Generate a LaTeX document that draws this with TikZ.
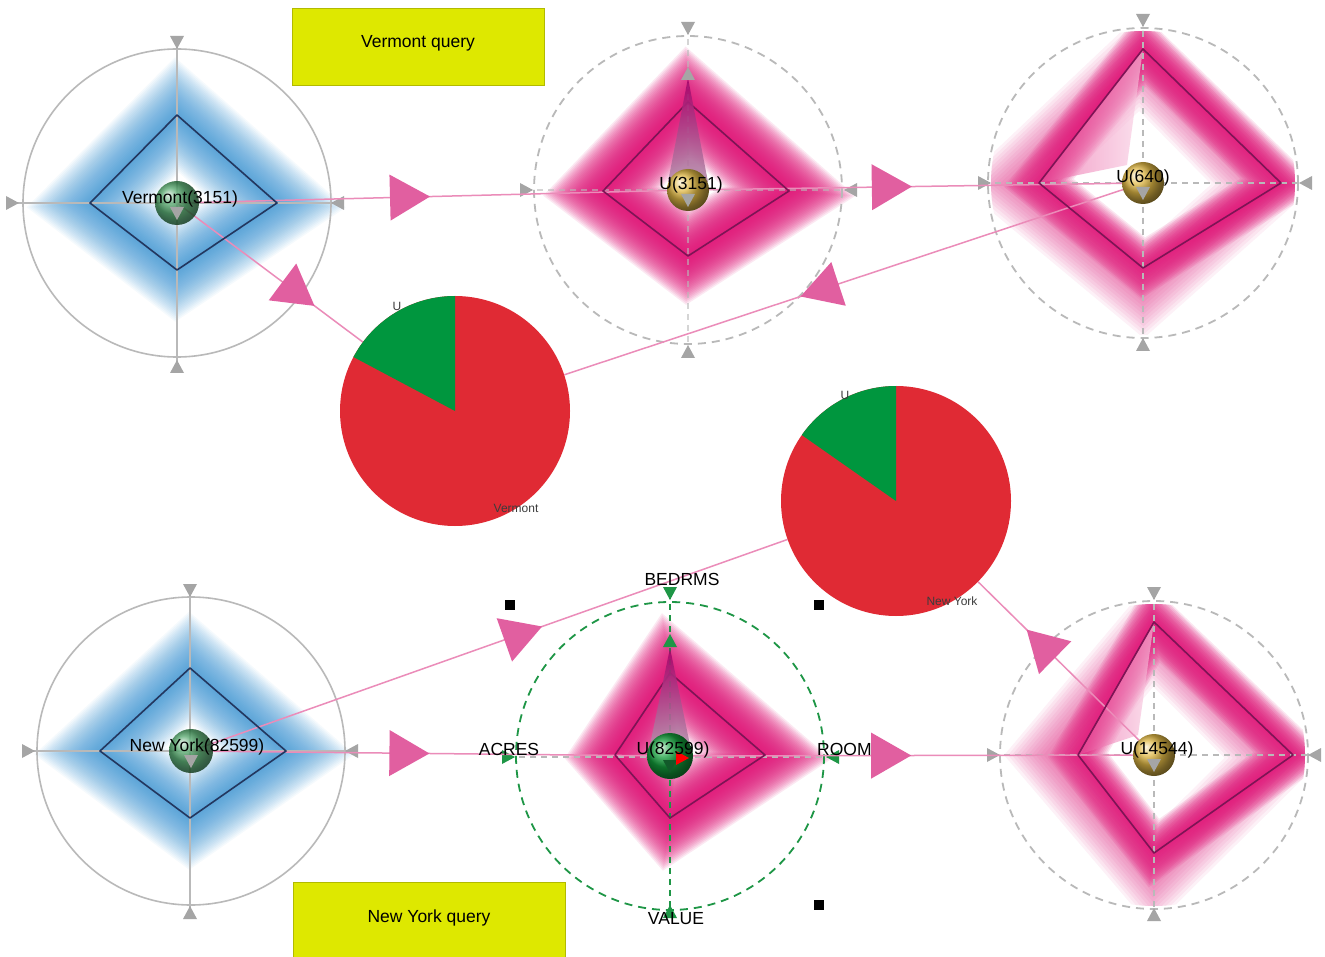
\documentclass[tikz,border=0pt]{standalone}
\usepackage{fontspec}
\setmainfont{Liberation Sans}
\usetikzlibrary{shapes.geometric}
\definecolor{pk}{RGB}{225,20,120}
\definecolor{bl}{RGB}{40,140,210}
\definecolor{lnpink}{RGB}{235,140,185}
\definecolor{arpink}{RGB}{225,95,160}
\definecolor{dmag}{RGB}{125,20,85}
\definecolor{dnavy}{RGB}{35,55,95}
\definecolor{axgray}{RGB}{185,185,185}
\definecolor{trgray}{RGB}{165,165,165}
\definecolor{piered}{RGB}{224,42,52}
\definecolor{piegreen}{RGB}{0,150,62}
\definecolor{qyellow}{RGB}{222,232,0}
\definecolor{dgreen}{RGB}{30,150,70}
\definecolor{spktop}{RGB}{165,0,105}
\definecolor{spkbot}{RGB}{180,140,170}
\definecolor{gold}{RGB}{225,185,70}
\definecolor{ballgreen}{RGB}{20,160,60}
\definecolor{lblgray}{RGB}{60,60,60}
\newcommand\myglow[7]{\foreach \w in {#3}{\draw[draw=#1,draw opacity=#2,line width=\w pt,line join=miter] #4 -- #5 -- #6 -- #7 -- cycle;}}
\newcommand\tdown[3]{\pic[fill=#3, rotate=-90] at (#1,#2) {gtri};}
\newcommand\tup[3]{\pic[fill=#3, rotate=90] at (#1,#2) {gtri};}
\newcommand\tright[3]{\pic[fill=#3] at (#1,#2) {gtri};}
\newcommand\tleft[3]{\pic[fill=#3, rotate=180] at (#1,#2) {gtri};}
\tikzset{
  gtri/.pic={\fill[pic actions] (-6,-7) -- (-6,7) -- (7,0) -- cycle;},
  bigtri/.pic={\fill[arpink] (-20,-23) -- (-20,23) -- (20,0) -- cycle;},
  conn/.style={draw=lnpink, line width=1.5pt},
  solidcirc/.style={draw=axgray, line width=1.6pt},
  dashcirc/.style={draw=axgray, line width=1.8pt, dash pattern=on 8pt off 6pt},
  axsolid/.style={draw=axgray, line width=1.1pt},
  axdash/.style={draw=axgray, line width=1.2pt, dash pattern=on 6pt off 5pt},
  navyq/.style={draw=dnavy, line width=1.6pt, line join=round},
  magq/.style={draw=dmag, line width=1.6pt, line join=round},
  lbl/.style={font=\fontsize{17.5}{20}\selectfont, text=black, inner sep=0pt},
  axlbl/.style={font=\fontsize{17.5}{20}\selectfont, text=black, inner sep=0pt},
  pielbl/.style={font=\fontsize{12}{14}\selectfont, text=lblgray, inner sep=0pt},
  qbox/.style={fill=qyellow, draw=qyellow!80!black, line width=0.6pt, font=\fontsize{17.5}{20}\selectfont, inner sep=0pt},
  handle/.style={fill=black},
}
\begin{document}
\begin{tikzpicture}[x=1pt,y=-1pt]
\useasboundingbox (0,0) rectangle (1325,957);
\fill[white] (0,0) rectangle (1325,957);

% glyph centres
\coordinate (vt) at (177,203);
\coordinate (u1) at (688,190);
\coordinate (u2) at (1143,183);
\coordinate (ny) at (191,751);
\coordinate (u3) at (670,756);
\coordinate (u4) at (1154,755);
\node[circle, minimum size=230pt, inner sep=0pt] (pie1) at (455,411) {};
\node[circle, minimum size=230pt, inner sep=0pt] (pie2) at (896,501) {};

% glows
\myglow{bl}{0.042}{84,81,...,3}{(177,115)}{(277,203)}{(177,270)}{(90,203)}
\myglow{bl}{0.042}{84,81,...,3}{(190,668)}{(286,751)}{(190,818)}{(100,751)}
\myglow{pk}{0.095}{80,77,...,2}{(688,102)}{(789,191)}{(688,256)}{(603,191)}
\myglow{pk}{0.095}{80,77,...,2}{(670,673)}{(765,755)}{(670,818)}{(615,755)}
% irregular profiles: faint wide layer shifted to the lower left, then the edge glow
\begin{scope}
\clip (u2) circle[radius=152];
\myglow{pk}{0.06}{70,64,...,10}{(1140,62)}{(1262,186)}{(1143,292)}{(1012,183)}
\myglow{pk}{0.11}{50,47,...,2}{(1143,49)}{(1281,183)}{(1143,268)}{(1039,183)}
\shade[left color=pk!75, right color=pk!20, opacity=0.6] (1143,49) -- (1127,165) -- (1039,183) -- cycle;
\end{scope}
\begin{scope}
\clip (u4) circle[radius=151];
\myglow{pk}{0.06}{70,64,...,10}{(1151,635)}{(1274,758)}{(1154,877)}{(1050,755)}
\myglow{pk}{0.11}{50,47,...,2}{(1154,622)}{(1293,755)}{(1154,853)}{(1078,755)}
\shade[left color=pk!75, right color=pk!20, opacity=0.6] (1154,622) -- (1138,735) -- (1078,755) -- cycle;
\end{scope}

% circles and axes
\draw[solidcirc] (vt) circle[radius=154];
\draw[axsolid] (177,42) -- (177,367);
\draw[axsolid] (12,203) -- (338,203);
\draw[solidcirc] (ny) circle[radius=154];
\draw[axsolid] (190,590) -- (190,913);
\draw[axsolid] (28,751) -- (352,751);
\draw[dashcirc] (u1) circle[radius=154];
\draw[axdash, opacity=0.6] (688,28) -- (688,352);
\draw[axdash, opacity=0.6] (526,190) -- (851,190);
\draw[dashcirc] (u2) circle[radius=155];
\draw[axdash] (1143,20) -- (1143,345);
\draw[axdash] (984,183) -- (1306,183);
\draw[dashcirc, draw=dgreen] (u3) circle[radius=154];
\draw[axdash, draw=dgreen] (670,593) -- (670,912);
\draw[axdash] (508,757) -- (833,757);
\draw[dashcirc] (u4) circle[radius=154];
\draw[axdash] (1154,593) -- (1154,915);
\draw[axdash] (993,755) -- (1315,755);

% axis end markers
\tdown{177}{42}{trgray} \tup{177}{367}{trgray} \tright{12}{203}{trgray} \tleft{338}{203}{trgray}
\tdown{190}{590}{trgray} \tup{190}{913}{trgray} \tright{28}{751}{trgray} \tleft{352}{751}{trgray}
\tdown{688}{28}{trgray} \tup{688}{352}{trgray} \tright{526}{190}{trgray} \tleft{851}{190}{trgray}
\tdown{1143}{20}{trgray} \tup{1143}{345}{trgray} \tright{984}{183}{trgray} \tleft{1306}{183}{trgray}
\tdown{670}{593}{dgreen} \tup{670}{912}{dgreen} \tright{508}{757}{dgreen} \tleft{833}{757}{dgreen}
\tdown{1154}{593}{trgray} \tup{1154}{915}{trgray} \tright{993}{755}{trgray} \tleft{1315}{755}{trgray}

% connectors
\draw[conn] (vt) -- pic[pos=0.456, sloped, allow upside down]{bigtri} (u1);
\draw[conn] (u1) -- pic[pos=0.448, sloped, allow upside down]{bigtri} (u2);
\draw[conn] (vt) -- pic[pos=0.654, sloped, allow upside down]{bigtri} (pie1);
\draw[conn] (u2) -- pic[pos=0.559, sloped, allow upside down]{bigtri} (pie1);
\draw[conn] (ny) -- pic[pos=0.456, sloped, allow upside down]{bigtri} (u3);
\draw[conn] (u3) -- pic[pos=0.457, sloped, allow upside down]{bigtri} (u4);
\draw[conn] (ny) -- pic[pos=0.557, sloped, allow upside down]{bigtri} (pie2);
\draw[conn] (u4) -- pic[pos=0.643, sloped, allow upside down]{bigtri} (pie2);

% profile quadrilaterals
\draw[navyq] (177,115) -- (277,203) -- (177,270) -- (90,203) -- cycle;
\draw[navyq] (190,668) -- (286,751) -- (190,818) -- (100,751) -- cycle;
\draw[magq] (688,102) -- (789,191) -- (688,256) -- (603,191) -- cycle;
\draw[magq] (1143,49) -- (1281,183) -- (1143,268) -- (1039,183) -- cycle;
\draw[magq] (670,673) -- (765,755) -- (670,818) -- (615,755) -- cycle;
\draw[magq] (1154,622) -- (1293,755) -- (1154,853) -- (1078,755) -- cycle;

% spikes
\shade[top color=spktop, bottom color=spkbot, opacity=0.9] (688,78) -- (708,182) -- (668,182) -- cycle;
\tup{688}{74}{trgray}
\shade[top color=spktop, bottom color=spkbot, opacity=0.9] (670,648) -- (690,745) -- (650,745) -- cycle;
\tup{670}{641}{dgreen}

% spheres
\shade[ball color=ballgreen!70!gray, opacity=0.85] (vt) circle[radius=22];
\shade[ball color=ballgreen!70!gray, opacity=0.85] (ny) circle[radius=22];
\shade[ball color=gold] (u1) circle[radius=21];
\shade[ball color=gold] (u2) circle[radius=21];
\shade[ball color=ballgreen] (u3) circle[radius=23];
\shade[ball color=gold] (u4) circle[radius=21];
\tdown{177}{213}{trgray} \tdown{191}{761}{trgray}
\tdown{688}{200}{trgray} \tdown{1143}{193}{trgray}
\tdown{670}{766}{dgreen!60!black} \tdown{1154}{765}{trgray}
\tright{682}{758}{red}

% pies
\fill[piered] (pie1.center) circle[radius=115];
\fill[piegreen] (pie1.center) -- ++(-90:115) arc[start angle=-90, end angle=-152, radius=115] -- cycle;
\fill[piered] (pie2.center) circle[radius=115];
\fill[piegreen] (pie2.center) -- ++(-90:115) arc[start angle=-90, end angle=-145, radius=115] -- cycle;
\node[pielbl] (p1u) at (397,306) {U};
\node[pielbl] (p1v) at (516,508) {Vermont};
\node[pielbl] (p2u) at (845,395) {U};
\node[pielbl] (p2n) at (952,601) {New York};

% glyph labels
\node[lbl, xshift=3pt, yshift=4pt] (lvt) at (vt) {Vermont(3151)};
\node[lbl, xshift=3pt, yshift=5pt] (lu1) at (u1) {U(3151)};
\node[lbl, xshift=0pt, yshift=5pt] (lu2) at (u2) {U(640)};
\node[lbl, xshift=6pt, yshift=4pt] (lny) at (ny) {New York(82599)};
\node[lbl, xshift=3pt, yshift=6pt] (lu3) at (u3) {U(82599)};
\node[lbl, xshift=3pt, yshift=5pt] (lu4) at (u4) {U(14544)};

% axis labels of the selected glyph
\node[axlbl] (bed) at (682,579) {BEDRMS};
\node[axlbl] (acr) at (509,749) {ACRES};
\node[axlbl, anchor=west] (roo) at (817,749) {ROOM};
\node[axlbl] (val) at (676,919) {VALUE};

% selection handles
\fill[handle] (505,600) rectangle (515,610);
\fill[handle] (814,600) rectangle (824,610);
\fill[handle] (814,900) rectangle (824,910);

% query boxes
\node[qbox, minimum width=252pt, minimum height=77pt, text depth=10pt] (qv) at (418,46.5) {Vermont query};
\node[qbox, minimum width=272pt, minimum height=80pt, text depth=12pt] (qn) at (429,922) {New York query};
\end{tikzpicture}
\end{document}
